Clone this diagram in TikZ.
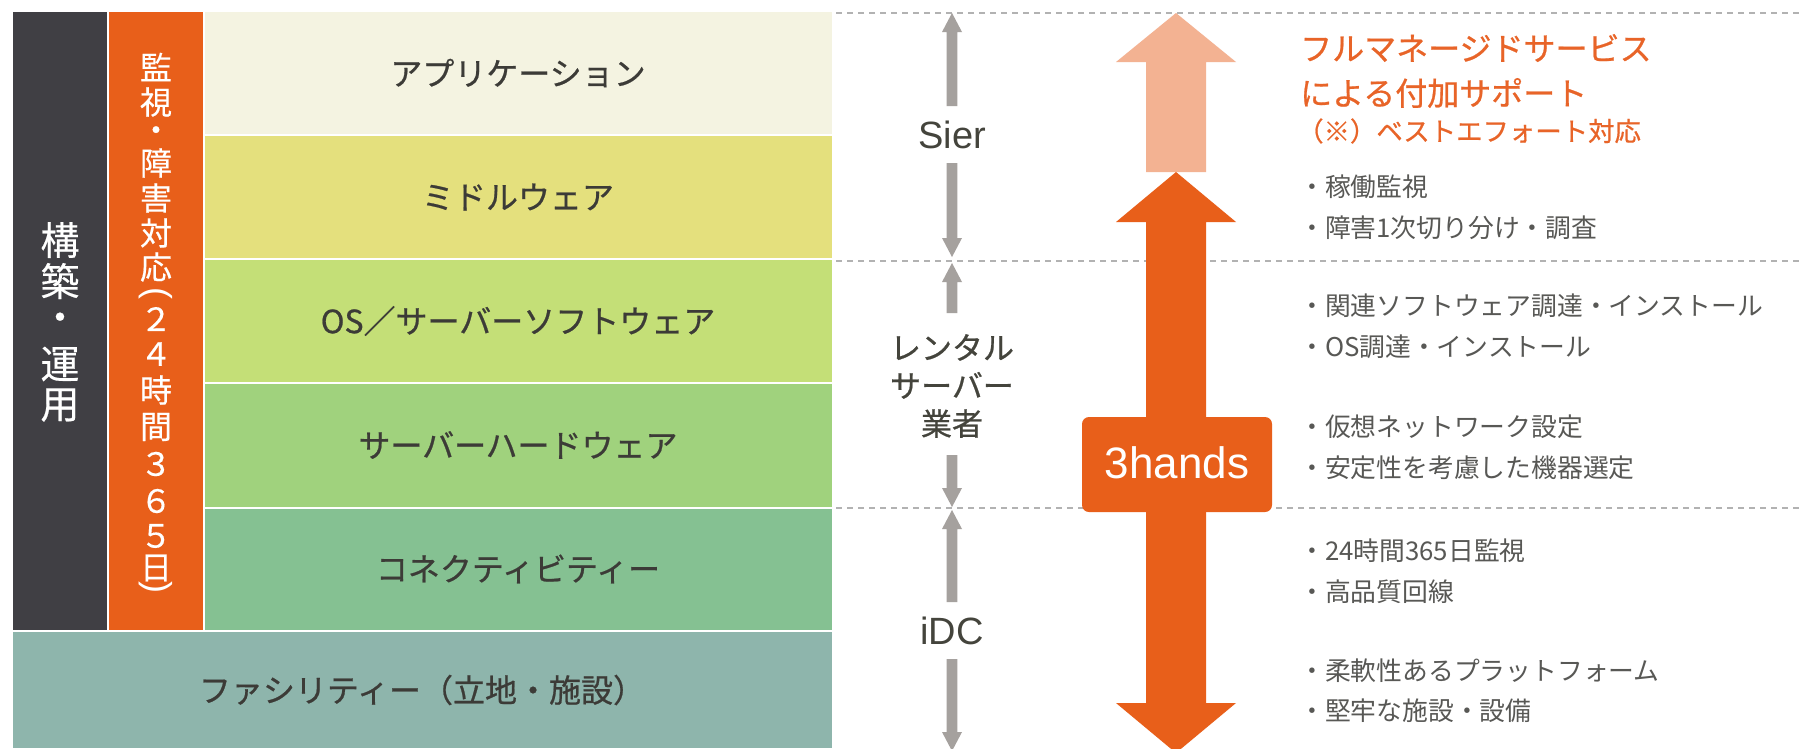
\documentclass[tikz,border=0pt]{standalone}
\usepackage{fontspec}
\setmainfont{Noto Sans CJK JP}
\newfontfamily\jpmed[FakeBold=0.7]{Noto Sans CJK JP}
\newfontfamily\jplite[FakeBold=0.4]{Noto Sans CJK JP}
\newfontfamily\latfont{Liberation Sans}
\definecolor{cdark}{RGB}{64,63,68}
\definecolor{corange}{RGB}{232,95,26}
\definecolor{capp}{RGB}{244,243,225}
\definecolor{cmid}{RGB}{228,224,125}
\definecolor{cos}{RGB}{196,223,119}
\definecolor{chw}{RGB}{160,210,125}
\definecolor{cconn}{RGB}{133,193,146}
\definecolor{cfac}{RGB}{142,181,172}
\definecolor{csalmon}{RGB}{243,178,146}
\definecolor{cgray}{RGB}{165,161,158}
\definecolor{cdash}{RGB}{178,178,178}
\definecolor{ctext}{RGB}{60,59,55}
\definecolor{clabel}{RGB}{68,68,60}
\definecolor{cbullet}{RGB}{88,88,85}
\definecolor{ctitle}{RGB}{232,100,40}
\newcommand\garrow[4]{%
  \fill[cgray] (#1,#2) -- ({#1+10},{#2+19*#4}) -- ({#1+5.4},{#2+19*#4}) -- ({#1+5.4},#3) -- ({#1-5.4},#3) -- ({#1-5.4},{#2+19*#4}) -- ({#1-10},{#2+19*#4}) -- cycle;}
\newcommand\vparen[1]{\rotatebox[origin=c]{-90}{\latfont\fontsize{36}{36}\selectfont #1}}
\begin{document}
\begin{tikzpicture}[x=1pt,y=-1pt,
  blocklabel/.style={font=\jpmed\fontsize{32}{38}\selectfont, text=ctext, inner sep=0},
  vcharw/.style={font=\jplite\fontsize{39}{39}\selectfont, text=white, inner sep=0},
  vcharo/.style={font=\jplite\fontsize{32}{32}\selectfont, text=white, inner sep=0},
  sidelabel/.style={font=\latfont\fontsize{38}{38}\selectfont, text=clabel, inner sep=0},
  sidejp/.style={font=\jpmed\fontsize{31}{38}\selectfont, text=clabel, inner sep=0, align=center},
  bullet/.style={font=\fontsize{25.8}{30}\selectfont, text=cbullet, inner sep=0, anchor=west},
  title/.style={font=\jpmed\fontsize{32}{36}\selectfont, text=ctitle, inner sep=0, anchor=west},
  dashline/.style={draw=cdash, line width=1.5pt, dash pattern=on 6pt off 5pt}
]
\useasboundingbox (0,0) rectangle (1802,748);
\fill[white] (0,0) rectangle (1802,748);
% columns
\fill[cdark] (13,12) rectangle (107,630);
\fill[corange] (109,12) rectangle (203,630);
% blocks
\fill[capp] (205,12) rectangle (832,134);
\fill[cmid] (205,136) rectangle (832,258);
\fill[cos] (205,260) rectangle (832,382);
\fill[chw] (205,384) rectangle (832,507);
\fill[cconn] (205,509) rectangle (832,630);
\fill[cfac] (13,632) rectangle (832,748);
\node[blocklabel] (app) at (518,73) {アプリケーション};
\node[blocklabel] (mid) at (518,197) {ミドルウェア};
\node[blocklabel] (os) at (518,321) {OS／サーバーソフトウェア};
\node[blocklabel] (hw) at (518,445) {サーバーハードウェア};
\node[blocklabel] (conn) at (518,569) {コネクティビティー};
\node[blocklabel] (fac) at (422,690) {ファシリティー（立地・施設）};
% vertical text
\foreach \c/\yy [count=\i] in {構/240, 築/281, ・/322, 運/364, 用/405}
  \node[vcharw] (w\i) at (60,\yy) {\c};
\foreach \c/\yy [count=\i] in {監/67, 視/102, ・/134, 障/163, 害/198, 対/233, 応/267, ２/319, ４/354, 時/390, 間/427, ３/464, ６/501, ５/536, 日/568}
  \node[vcharo] (o\i) at (156,\yy) {\c};
\node[text=white, inner sep=0] (lp) at (156,295) {\vparen{(}};
\node[text=white, inner sep=0] (rp) at (156,589) {\vparen{)}};
% dashed lines
\draw[dashline] (836,13) -- (1802,13);
\draw[dashline] (836,261) -- (1802,261);
\draw[dashline] (836,508) -- (1802,508);
% gray arrows
\garrow{952}{13}{106}{1}
\garrow{952}{257}{163}{-1}
\garrow{952}{263}{313}{1}
\garrow{952}{507}{455}{-1}
\garrow{952}{510}{602}{1}
\garrow{952}{751}{659}{-1}
\node[sidelabel] (sier) at (952,135) {Sier};
\node[sidejp] (rental) at (952,386) {レンタル\\サーバー\\業者};
\node[sidelabel] (idc) at (952,631) {iDC};
% big arrows
\fill[csalmon] (1176,13) -- (1236,62) -- (1206,62) -- (1206,172) -- (1146,172) -- (1146,62) -- (1116,62) -- cycle;
\fill[corange] (1176,172) -- (1236,222) -- (1206,222) -- (1206,703) -- (1236,703) -- (1176,753) -- (1116,703) -- (1146,703) -- (1146,222) -- (1116,222) -- cycle;
\fill[corange, rounded corners=7pt] (1082,417) rectangle (1272,512);
\node[font=\latfont\fontsize{44}{44}\selectfont, text=white, inner sep=0] (hands) at (1177,463) {3hands};
% right texts
\node[title] (t1) at (1300,48) {フルマネージドサービス};
\node[title] (t2) at (1300,93) {による付加サポート};
\node[title, font=\jpmed\fontsize{26.4}{30}\selectfont] (t3) at (1297,131) {（※）ベストエフォート対応};
\node[bullet] (b1) at (1299,187) {・稼働監視};
\node[bullet] (b2) at (1299,228) {・障害1次切り分け・調査};
\node[bullet] (b3) at (1299,306) {・関連ソフトウェア調達・インストール};
\node[bullet] (b4) at (1299,347) {・OS調達・インストール};
\node[bullet] (b5) at (1299,427) {・仮想ネットワーク設定};
\node[bullet] (b6) at (1299,468) {・安定性を考慮した機器選定};
\node[bullet] (b7) at (1299,551) {・24時間365日監視};
\node[bullet] (b8) at (1299,592) {・高品質回線};
\node[bullet] (b9) at (1299,671) {・柔軟性あるプラットフォーム};
\node[bullet] (b10) at (1299,711) {・堅牢な施設・設備};
\end{tikzpicture}
\end{document}
